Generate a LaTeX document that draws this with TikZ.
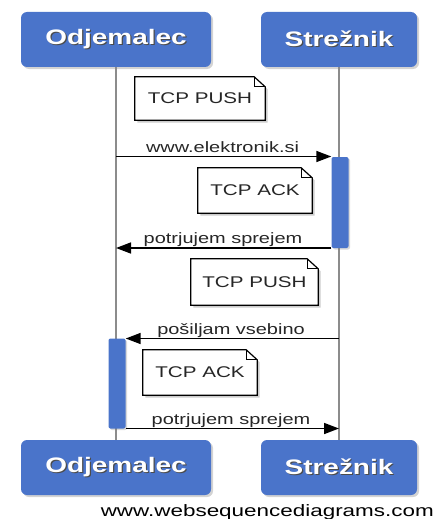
\documentclass[tikz,border=0pt]{standalone}
\usepackage{fontspec}
\setmainfont{Liberation Sans}
\usetikzlibrary{arrows.meta,shadows,backgrounds}

\definecolor{actorblue}{RGB}{74,116,202}
\definecolor{lifegrey}{RGB}{140,140,140}

% text set a little wider than the font draws it
\newcommand\wide[1]{\scalebox{1.33}[1]{#1}}
% white participant name with a dark offset copy behind it
\newcommand\actorlabel[1]{{\color{black!70}\rlap{\hspace{1.2pt}\raisebox{-1.2pt}{\wide{#1}}}}\wide{#1}}

\begin{document}
\begin{tikzpicture}[x=1pt,y=-1pt,
  actor/.style={fill=actorblue, draw=none, rounded corners=6pt,
    minimum height=55pt, inner sep=0pt, text=white,
    font=\fontsize{21}{24}\selectfont\bfseries,
    drop shadow={opacity=0.35, shadow xshift=2pt, shadow yshift=-2pt}},
  lifeline/.style={draw=lifegrey, line width=1.3pt},
  activation/.style={fill=actorblue, draw=none, rounded corners=2pt,
    minimum width=17pt, inner sep=0pt,
    drop shadow={opacity=0.3, shadow xshift=1.5pt, shadow yshift=-1.5pt}},
  notetext/.style={inner sep=0pt, text=black!85,
    font=\fontsize{15.5}{18}\selectfont},
  noteshape/.style={fill=white, draw=black, line width=1.2pt,
    drop shadow={opacity=0.4, shadow xshift=2.5pt, shadow yshift=-2.5pt}},
  msg/.style={draw=black, line width=1.6pt, -{Triangle[length=15pt,width=11pt]}},
  msglabel/.style={anchor=base, inner sep=0pt, text=black!85,
    font=\fontsize{15}{18}\selectfont},
]
\useasboundingbox (0,0) rectangle (436,519);

% participants, top and bottom
\node[actor, minimum width=190pt] (odjTop) at (116,39.5) {\actorlabel{Odjemalec}};
\node[actor, minimum width=156pt] (srvTop) at (339,39.5) {\actorlabel{Strežnik}};
\node[actor, minimum width=190pt] (odjBot) at (116,467.5) {\actorlabel{Odjemalec}};
\node[actor, minimum width=156pt] (srvBot) at (339,467.5) {\actorlabel{Strežnik}};

% lifelines
\draw[lifeline] (odjTop) -- (odjBot);
\draw[lifeline] (srvTop) -- (srvBot);

% activation bars
\node[activation, minimum height=91pt] (barR) at (340,202.5) {};
\node[activation, minimum height=90pt] (barL) at (117,383.5) {};

% notes with a folded corner
\node[notetext, minimum width=130pt, minimum height=43pt] (n1) at (200,98.5) {\wide{TCP PUSH}};
\node[notetext, minimum width=114pt, minimum height=45pt] (n2) at (255,190.5) {\wide{TCP ACK}};
\node[notetext, minimum width=127pt, minimum height=46pt] (n3) at (254.5,282) {\wide{TCP PUSH}};
\node[notetext, minimum width=114pt, minimum height=45pt] (n4) at (200,372.5) {\wide{TCP ACK}};
\begin{scope}[on background layer]
  \foreach \n in {n1,n2,n3,n4} {
    \path[noteshape] (\n.south west) -- (\n.north west) -- ([xshift=-11pt]\n.north east)
      -- ([yshift=-10pt]\n.north east) -- (\n.south east) -- cycle;
    \draw[line width=1pt] ([xshift=-11pt]\n.north east) -- ([xshift=-11pt,yshift=-10pt]\n.north east)
      -- ([yshift=-10pt]\n.north east);
  }
\end{scope}

% message end points
\coordinate (a1s) at (116,156.5);
\coordinate (a1e) at (barR.west |- a1s);
\coordinate (a2s) at (barR.west |- 0,248);
\coordinate (a2e) at (116,248);
\coordinate (a3s) at (339,338.5);
\coordinate (a3e) at (barL.east |- a3s);
\coordinate (a4s) at (barL.east |- 0,428.5);
\coordinate (a4e) at (339,428.5);

% messages
\draw[msg] (a1s) -- (a1e);
\draw[msg] (a2s) -- (a2e);
\draw[msg] (a3s) -- (a3e);
\draw[msg] (a4s) -- (a4e);

\node[msglabel] (m1) at (222.5,152) {\wide{www.elektronik.si}};
\node[msglabel] (m2) at (223,243.5) {\wide{potrjujem sprejem}};
\node[msglabel] (m3) at (231,334) {\wide{pošiljam vsebino}};
\node[msglabel] (m4) at (231,424.5) {\wide{potrjujem sprejem}};

% footer
\node[anchor=base east, inner sep=0pt, font=\fontsize{16.5}{18}\selectfont] (footer)
  at (434,516.5) {\scalebox{1.36}[1]{www.websequencediagrams.com}};
\end{tikzpicture}
\end{document}
